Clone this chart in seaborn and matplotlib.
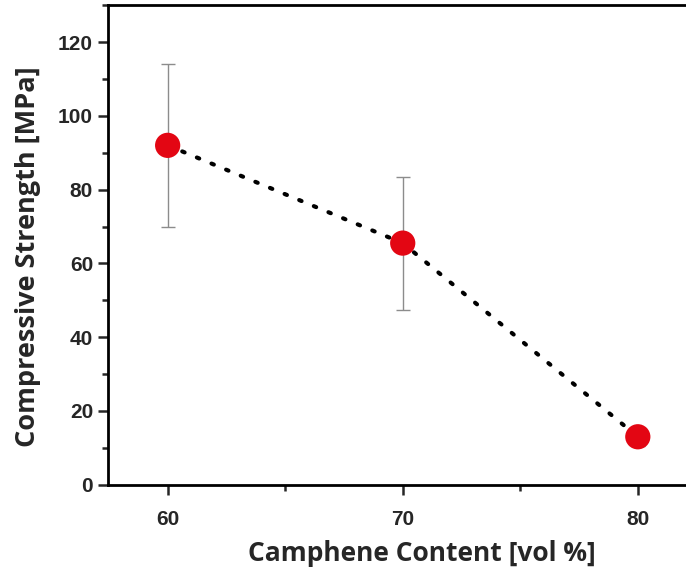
import numpy as np
import pandas as pd
import matplotlib
matplotlib.use("Agg")
import matplotlib.pyplot as plt
from matplotlib.ticker import MultipleLocator
import seaborn as sns

# datos
camphene = [60, 70, 80]
strength = [92, 65.5, 13]
error = [22, 18, 2.5]

df = pd.DataFrame({"camphene": camphene, "strength": strength, "error": error})

sns.set_style("ticks")
plt.rcParams["font.family"] = ["Liberation Sans", "DejaVu Sans"]

fig = plt.figure(figsize=(6.86, 5.75), dpi=100)
ax = fig.add_axes([0.157, 0.157, 0.843, 0.834])

# barras de error
ax.errorbar(df["camphene"], df["strength"], yerr=df["error"], fmt="none",
            ecolor="#8c8c8c", elinewidth=1, capsize=5, capthick=1, zorder=2)

# linea punteada
sns.lineplot(data=df, x="camphene", y="strength", ax=ax, color="black",
             linewidth=3, linestyle=(0, (0.6, 3.2)), zorder=3)
for ln in ax.get_lines():
    ln.set_dash_capstyle("round")

# puntos
sns.scatterplot(data=df, x="camphene", y="strength", ax=ax, color="#e30613",
                s=330, edgecolor="none", zorder=4)

ax.set_xlim(57.45, 82.05)
ax.set_ylim(0, 130)
ax.xaxis.set_major_locator(MultipleLocator(10))
ax.xaxis.set_minor_locator(MultipleLocator(5))
ax.yaxis.set_major_locator(MultipleLocator(20))
ax.yaxis.set_minor_locator(MultipleLocator(10))
ax.tick_params(axis="both", which="major", direction="out", length=7, width=1.8,
               labelsize=15)
ax.tick_params(axis="both", which="minor", direction="out", length=4, width=1.8)
for lbl in ax.get_xticklabels() + ax.get_yticklabels():
    lbl.set_fontweight("bold")
ax.tick_params(axis="x", pad=11)

for s in ["left", "bottom", "top"]:
    ax.spines[s].set_linewidth(2)
    ax.spines[s].set_color("black")
ax.spines["right"].set_visible(False)

ax.set_xlabel("Camphene Content [vol %]", fontsize=19, fontweight="bold",
              family=["Open Sans", "DejaVu Sans"])
ax.set_ylabel("Compressive Strength [MPa]", fontsize=19.5, fontweight="bold",
              family=["Open Sans", "DejaVu Sans"])
ax.xaxis.set_label_coords(0.543, -0.115)
ax.yaxis.set_label_coords(-0.115, 0.475)

fig.savefig("out.png", dpi=100)
